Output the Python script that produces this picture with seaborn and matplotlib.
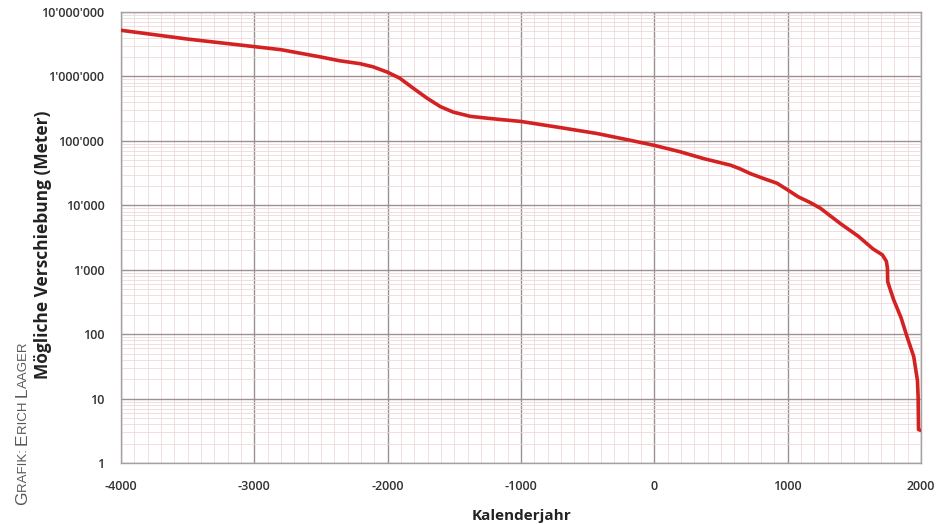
import numpy as np
import pandas as pd
import seaborn as sns
import matplotlib.pyplot as plt
from matplotlib.ticker import FixedLocator, LogLocator, FuncFormatter, NullFormatter

# Werte
jahre = [-4000, -3500, -3000, -2800, -2500, -2360, -2210, -2110, -2000, -1910,
         -1810, -1705, -1605, -1510, -1380, -1255, -1160, -1000, -700, -430,
         -180, 0, 190, 370, 570, 640, 720, 820, 920, 1000,
         1080, 1170, 1245, 1395, 1530, 1640, 1710, 1740, 1748, 1750,
         1760, 1795, 1850, 1895, 1945, 1973, 1978, 1981, 2000]
verschiebung = [5.2e6, 3.8e6, 2.9e6, 2.6e6, 2.0e6, 1.75e6, 1.58e6, 1.41e6, 1.16e6, 9.4e5,
                6.6e5, 4.6e5, 3.4e5, 2.8e5, 2.4e5, 2.25e5, 2.15e5, 2.0e5, 1.6e5, 1.3e5,
                1.02e5, 8.5e4, 6.8e4, 5.3e4, 4.2e4, 3.7e4, 3.1e4, 2.6e4, 2.2e4, 1.73e4,
                1.35e4, 1.1e4, 9.0e3, 5.2e3, 3.3e3, 2.1e3, 1.7e3, 1.35e3, 1.05e3, 650,
                560, 340, 180, 91, 45, 19, 10.7, 3.3, 3.2]

x_ticks = [-4000, -3000, -2000, -1000, 0, 1000, 2000]
y_ticks = [1, 10, 100, 1000, 10000, 100000, 1000000, 10000000]

df = pd.DataFrame({'jahr': jahre, 'meter': verschiebung})

sns.set_style('white')
plt.rcParams['font.family'] = ['Open Sans', 'DejaVu Sans']

fig = plt.figure(figsize=(9.47, 5.24), dpi=100)
ax = fig.add_axes([0.1278, 0.1164, 0.8448, 0.8607])

sns.lineplot(data=df, x='jahr', y='meter', sort=False, estimator=None,
             color='#d42222', linewidth=2.6, ax=ax, zorder=5)
ax.lines[0].set_solid_joinstyle('round')

ax.set_yscale('log')
ax.set_xlim(-4000, 2000)
ax.set_ylim(1, 1e7)

ax.xaxis.set_major_locator(FixedLocator(x_ticks))
ax.xaxis.set_minor_locator(FixedLocator(np.arange(-4000, 2001, 100)))
ax.yaxis.set_major_locator(FixedLocator(y_ticks))
ax.yaxis.set_minor_locator(LogLocator(base=10, subs=np.arange(2, 10), numticks=20))
ax.yaxis.set_minor_formatter(NullFormatter())

def fmt(v, pos):
    return '{:,}'.format(int(round(v))).replace(',', "'")

ax.yaxis.set_major_formatter(FuncFormatter(fmt))
ax.xaxis.set_major_formatter(FuncFormatter(lambda v, p: str(int(v))))

ax.grid(which='major', color='#9e9090', linewidth=1.0)
ax.grid(which='minor', color='#ecd9dc', linewidth=0.6)
ax.set_axisbelow(True)

for s in ax.spines.values():
    s.set_color('#a8a0a0')
    s.set_linewidth(1.0)

ax.tick_params(axis='both', which='major', labelsize=9, colors='#333333',
               length=4, width=0.8, pad=8)
ax.tick_params(axis='both', which='major', color='#999999')
ax.tick_params(axis='both', which='minor', length=0)
for lbl in ax.get_xticklabels() + ax.get_yticklabels():
    lbl.set_fontweight('semibold')

ax.set_xlabel('Kalenderjahr', fontsize=11, fontweight='bold', color='#222222', labelpad=12)
ax.set_ylabel('Mögliche Verschiebung (Meter)', fontsize=12.5, fontweight='bold',
              color='#222222')
ax.yaxis.set_label_coords(-69 / 800, 0.485)

# Quellenangabe in Kapitälchen, senkrecht
teile = [('G', 12.5), ('RAFIK: ', 9.5), ('E', 12.5), ('RICH ', 9.5), ('L', 12.5), ('AAGER', 9.5)]
fig.canvas.draw()
renderer = fig.canvas.get_renderer()
y_pos = 19
for txt, size in teile:
    t = fig.text(27 / 947, y_pos / 524, txt, rotation=90, rotation_mode='anchor',
                 ha='left', va='baseline', fontsize=size, color='#5a5a5a',
                 family=['Liberation Sans', 'DejaVu Sans'])
    bb = t.get_window_extent(renderer)
    y_pos += bb.height

fig.savefig('out.png', dpi=100)
